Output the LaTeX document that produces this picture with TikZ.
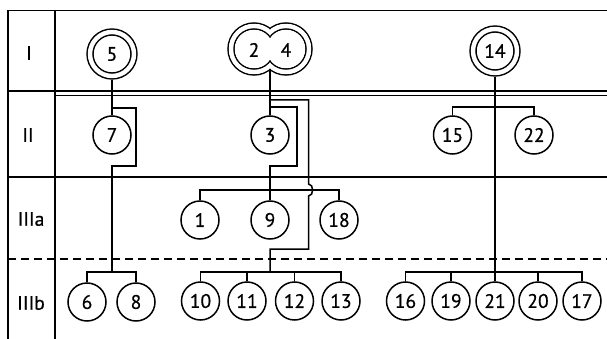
\documentclass[tikz,border=0pt]{standalone}
\usepackage{fontspec}
\setmainfont{PT Sans}[BoldFont={PT Sans},BoldFeatures={FakeBold=0.6}]
\begin{document}
\begin{tikzpicture}[x=1pt,y=-1pt,line width=1.5pt,
  grid/.style={line width=1.3pt},
  txt/.style={inner sep=0pt,font=\fontsize{19.5}{21}\selectfont\bfseries},
  nd/.style={circle,draw,minimum size=38pt,inner sep=0pt,line width=1.5pt,font=\fontsize{19.5}{21}\selectfont\bfseries},
  dnd/.style={circle,draw,double,double distance=4.4pt,minimum size=44pt,inner sep=0pt,line width=1.5pt,outer sep=3.7pt,font=\fontsize{19.5}{21}\selectfont\bfseries},
  lbl/.style={inner sep=0pt,font=\fontsize{19.5}{21}\selectfont\bfseries}]
\useasboundingbox (0,0) rectangle (607,339);
% table grid
\draw[grid] (8,10.5) -- (607,10.5);
\draw[grid] (8,91) -- (607,91);
\draw[grid] (55,95.5) -- (607,95.5);
\draw[grid] (8,177) -- (607,177);
\draw[grid,dash pattern=on 8pt off 5pt] (8,259) -- (607,259);
\draw[grid] (8,10.5) -- (8,339);
\draw[grid] (55,10.5) -- (55,339);
% row labels
\node[lbl] (rI) at (29,53) {I};
\node[lbl] (rII) at (28,135) {II};
\node[lbl] (rIIIa) at (31,219) {IIIa};
\node[lbl] (rIIIb) at (31,303) {IIIb};
% left group
\node[dnd] (n5) at (112,54) {5};
\node[nd] (n7) at (112,135) {7};
\node[nd] (n6) at (87,302) {6};
\node[nd] (n8) at (136,302) {8};
% 2-4 double lobed shape
\foreach \c in {254,286} \draw[line width=1.5pt] (\c,49) circle[radius=26];
\foreach \c in {254,286} \fill[white] (\c,49) circle[radius=25.2];
\foreach \c in {254,286} \draw[line width=1.5pt] (\c,49) circle[radius=20];
\foreach \c in {254,286} \fill[white] (\c,49) circle[radius=19.2];
\node[txt] (n2) at (254,50) {2};
\node[txt] (n4) at (286,50) {4};
\coordinate (c24) at (270,69.5);
% middle group
\node[nd] (n3) at (270,135) {3};
\node[nd] (n1) at (200,220) {1};
\node[nd] (n9) at (270,220) {9};
\node[nd] (n18) at (339,220) {18};
\node[nd] (n10) at (200.5,301) {10};
\node[nd] (n11) at (247,301) {11};
\node[nd] (n12) at (294.5,301) {12};
\node[nd] (n13) at (341,301) {13};
% right group
\node[dnd] (n14) at (495,51) {14};
\node[nd] (n15) at (452.5,135) {15};
\node[nd] (n22) at (534,135) {22};
\node[nd] (n16) at (405.5,301) {16};
\node[nd] (n19) at (451,301) {19};
\node[nd] (n21) at (495,301) {21};
\node[nd] (n20) at (538,301) {20};
\node[nd] (n17) at (582,301) {17};
% connectors left
\coordinate (b7) at (112,108);
\coordinate (j68) at (112,272);
\draw (n5) -- (n7);
\draw (b7) -| (136,166) -- (112,166) -- (j68);
\draw (n6.north) |- (j68) -| (n8.north);
% connectors middle
\coordinate (b3a) at (270,100);
\coordinate (b3b) at (270,107);
\coordinate (j9) at (270,190);
\coordinate (j1013) at (270,272);
\draw (c24) -- (n3);
\draw (b3a) -| (308.5,184) .. controls (314,184) and (314,196) .. (308.5,196) -- (308.5,249) -| (j1013);
\draw (b3b) -| (297,166) -- (270,166) -- (n9.north);
\draw (n1.north) |- (j9) -| (n18.north);
\draw (n10.north) |- (j1013) -| (n13.north);
\draw (n11.north) -- (n11.north |- j1013);
\draw (n12.north) -- (n12.north |- j1013);
% connectors right
\coordinate (j15) at (495,107);
\coordinate (j21) at (495,272);
\draw (n14) -- (n21);
\draw (n15.north) |- (j15) -| (n22.north);
\draw (n16.north) |- (j21) -| (n17.north);
\draw (n19.north) -- (n19.north |- j21);
\draw (n20.north) -- (n20.north |- j21);
\end{tikzpicture}
\end{document}
